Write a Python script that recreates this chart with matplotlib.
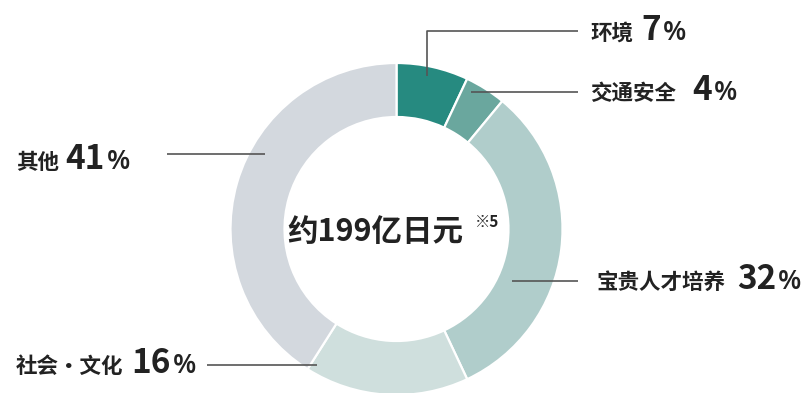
import matplotlib
matplotlib.use("Agg")
import matplotlib.pyplot as plt

plt.rcParams["font.family"] = ["Noto Sans CJK SC", "DejaVu Sans"]

W, H = 805, 393

names = ["环境", "交通安全", "宝贵人才培养", "社会・文化", "其他"]
shares = [7, 4, 32, 16, 41]
colors = ["#268a80", "#6aa79e", "#b0cdcb", "#cfdfdd", "#d3d8de"]
total_text = "约199亿日元"
note = "※5"

# label anchors in pixel space (x of label start, baseline y), and leader lines
label_pos = {
    "环境": (590, 40),
    "交通安全": (590, 100),
    "宝贵人才培养": (596, 289),
    "社会・文化": (16, 373),
    "其他": (16, 169),
}
leaders = {
    "环境": [(427, 76), (427, 31), (578, 31)],
    "交通安全": [(471, 92), (578, 92)],
    "宝贵人才培养": [(512, 281), (578, 281)],
    "社会・文化": [(207, 365), (317, 365)],
    "其他": [(167, 154), (265, 154)],
}
gaps = {"环境": 8, "交通安全": 16, "宝贵人才培养": 12, "社会・文化": 8, "其他": 6}


def py(y):
    return H - y


fig = plt.figure(figsize=(W / 100, H / 100), dpi=100)
ax = fig.add_axes([0, 0, 1, 1])

cx, cy, r_out, ring = 396.5, 229, 166, 54
ax.pie(shares, colors=colors, startangle=90, counterclock=False,
       center=(cx, py(cy)), radius=r_out,
       wedgeprops=dict(width=ring, edgecolor="white", linewidth=1.6))
ax.set_xlim(0, W)
ax.set_ylim(0, H)
ax.set_aspect("auto")
ax.axis("off")

for name, pts in leaders.items():
    ax.plot([p[0] for p in pts], [py(p[1]) for p in pts],
            color="#555555", lw=1.2, solid_capstyle="butt")

fig.canvas.draw()
rend = fig.canvas.get_renderer()
inv = ax.transData.inverted()


def put(x, y, s, **kw):
    t = ax.text(x, py(y), s, va="baseline", ha="left", color="#222222", **kw)
    bb = t.get_window_extent(renderer=rend)
    return inv.transform((bb.x1, bb.y0))[0]


for name, val in zip(names, shares):
    x, y = label_pos[name]
    x = put(x, y, name, fontsize=15.5, fontweight="bold")
    x = put(x + gaps[name], y, str(val), fontsize=24, fontweight="bold")
    put(x + 2, y, "%", fontsize=19.5, family=["Open Sans", "DejaVu Sans"],
        fontweight="semibold")

x = put(287, 241, total_text, fontsize=22, fontweight="bold")
put(x + 12, 227, note, fontsize=11, fontweight="bold")

fig.savefig("out.png", dpi=100)
